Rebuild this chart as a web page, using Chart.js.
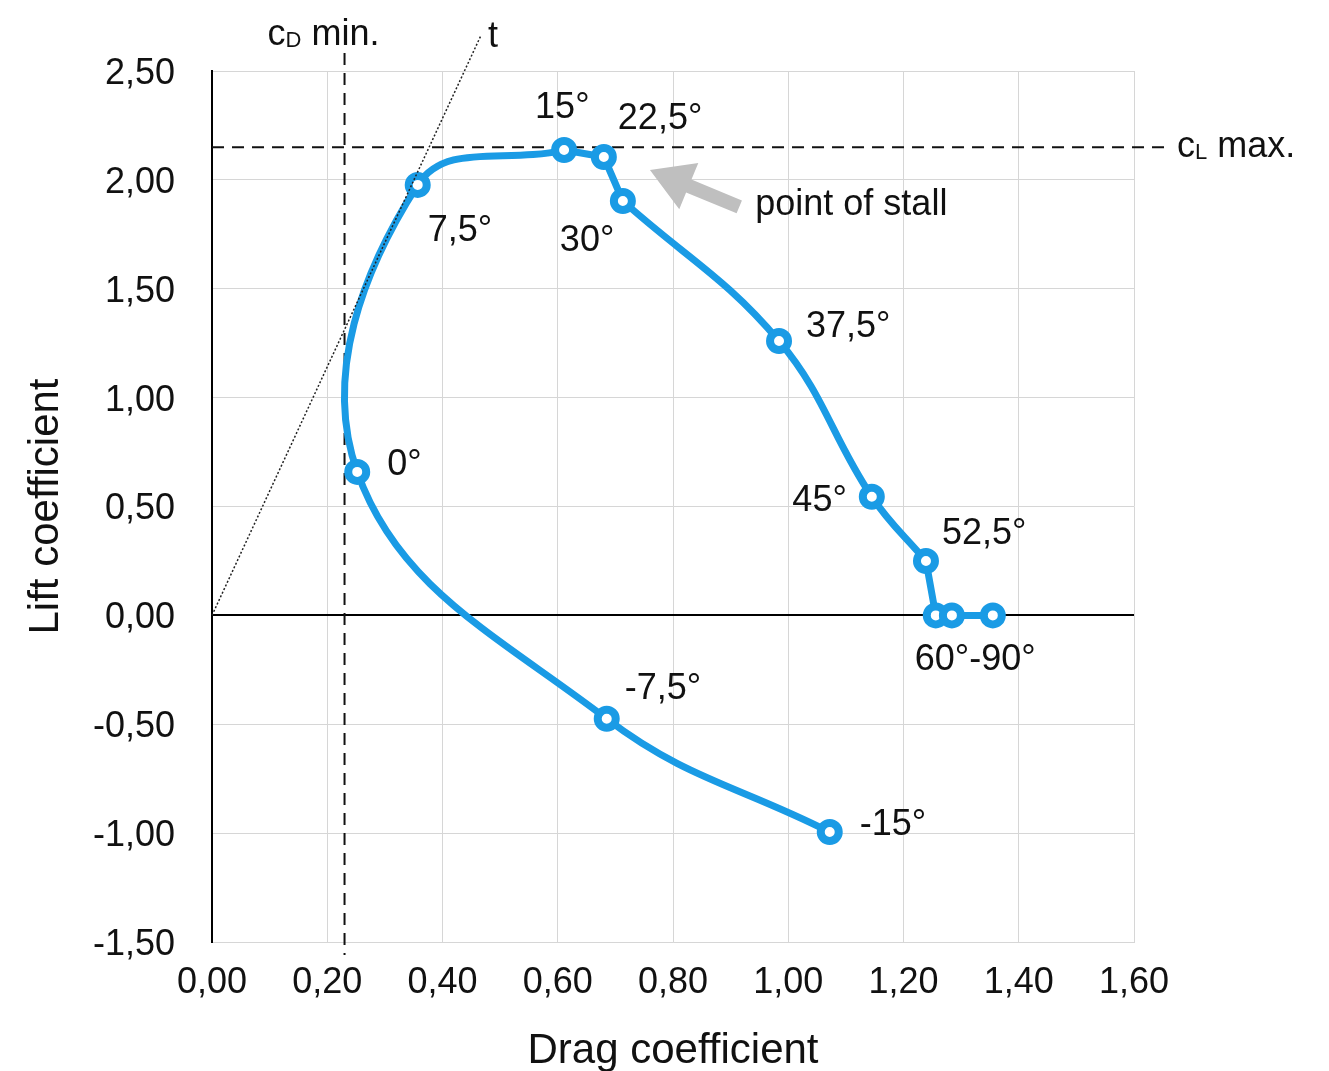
<!DOCTYPE html>
<html><head><meta charset="utf-8">
<script src="https://cdn.jsdelivr.net/npm/chart.js@4.4.1/dist/chart.umd.min.js"></script>
<style>html,body{margin:0;padding:0;background:#fff}#wrap{width:1329px;height:1071px}</style>
</head><body><div id="wrap"><canvas id="c" width="1329" height="1071"></canvas></div>
<script>
// ---- data ----
const angles = [-15, -7.5, 0, 7.5, 15, 22.5, 30, 37.5, 45, 52.5, 60, 75, 90];
const dragCoef = [1.072, 0.685, 0.252, 0.357, 0.611, 0.680, 0.713, 0.984, 1.145, 1.239, 1.256, 1.284, 1.355];
const liftCoef = [-0.995, -0.475, 0.659, 1.977, 2.137, 2.105, 1.903, 1.260, 0.545, 0.250, 0, 0, 0];
const angleLabels = ['-15°', '-7,5°', '0°', '7,5°', '15°', '22,5°', '30°', '37,5°', '45°', '52,5°', '60°-90°', '', ''];
const cdMin = 0.23;
const clMax = 2.15;
const tangentEnd = { x: 0.467, y: 2.665 };
const stallArrow = { tipX: 0.760, tipY: 2.045, tailX: 0.915, tailY: 1.876 };
const xAxisTitle = 'Drag coefficient';
const yAxisTitle = 'Lift coefficient';

// ---- layout (pixel offsets of labels relative to their points) ----
const labelLayout = [
  { dx: 30, dy: -7, align: 'left' },
  { dx: 18, dy: -30, align: 'left' },
  { dx: 30, dy: -7, align: 'left' },
  { dx: 10, dy: 46, align: 'left' },
  { dx: -29, dy: -42, align: 'left' },
  { dx: 14, dy: -38, align: 'left' },
  { dx: -63, dy: 40, align: 'left' },
  { dx: 27, dy: -14, align: 'left' },
  { dx: -25, dy: 4, align: 'right' },
  { dx: 16, dy: -27, align: 'left' },
  { dx: -21, dy: 45, align: 'left' },
  null, null
];
const segments = [
  { from: 0, to: 4, tension: 0.4 },
  { from: 4, to: 6, tension: 0 },
  { from: 6, to: 9, tension: 0.4 },
  { from: 9, to: 12, tension: 0 }
];

const FONT = '"Liberation Sans", Arial, Helvetica, sans-serif';
const BLUE = '#1a9be5';
const pts = dragCoef.map((x, i) => ({ x: x, y: liftCoef[i] }));
const fmt = v => (Math.round(v * 100) / 100).toFixed(2).replace('.', ',');

const datasets = [{
  data: pts, showLine: false, pointRadius: 9, pointBorderWidth: 8,
  pointBackgroundColor: '#ffffff', pointBorderColor: BLUE, order: 0
}];
segments.forEach(s => {
  datasets.push({
    data: pts.slice(s.from, s.to + 1), showLine: true, tension: s.tension,
    borderColor: BLUE, borderWidth: 7, pointRadius: 0, fill: false,
    borderCapStyle: 'round', borderJoinStyle: 'round', order: 1
  });
});

const overlay = {
  id: 'overlay',
  beforeDatasetsDraw(chart) {
    const { ctx, scales: { x, y } } = chart;
    ctx.save();
    ctx.strokeStyle = '#111'; ctx.lineWidth = 2; ctx.setLineDash([12, 8]);
    const yc = y.getPixelForValue(clMax);
    ctx.beginPath(); ctx.moveTo(x.left, yc); ctx.lineTo(x.right + 30, yc); ctx.stroke();
    const xc = x.getPixelForValue(cdMin);
    ctx.beginPath(); ctx.moveTo(xc, y.top - 18); ctx.lineTo(xc, y.bottom + 13); ctx.stroke();
    ctx.restore();
  },
  afterDatasetsDraw(chart) {
    const { ctx, scales: { x, y } } = chart;
    ctx.save();
    // tangent
    const x0 = x.getPixelForValue(0), y0 = y.getPixelForValue(0);
    const tx = x.getPixelForValue(tangentEnd.x), ty = y.getPixelForValue(tangentEnd.y);
    ctx.strokeStyle = '#222'; ctx.lineWidth = 1.5; ctx.setLineDash([2, 2]);
    ctx.beginPath(); ctx.moveTo(x0, y0); ctx.lineTo(tx, ty); ctx.stroke();
    ctx.setLineDash([]);
    // arrow
    const ax = x.getPixelForValue(stallArrow.tipX), ay = y.getPixelForValue(stallArrow.tipY);
    const bx = x.getPixelForValue(stallArrow.tailX), by = y.getPixelForValue(stallArrow.tailY);
    let ux = ax - bx, uy = ay - by; const L = Math.hypot(ux, uy); ux /= L; uy /= L;
    const px = -uy, py = ux;
    const headLen = 42, headHalf = 25, shaftHalf = 7;
    const hx = ax - ux * headLen, hy = ay - uy * headLen;
    ctx.fillStyle = '#bfbfbf';
    ctx.beginPath();
    ctx.moveTo(ax, ay);
    ctx.lineTo(hx + px * headHalf, hy + py * headHalf);
    ctx.lineTo(hx + px * shaftHalf, hy + py * shaftHalf);
    ctx.lineTo(bx + px * shaftHalf, by + py * shaftHalf);
    ctx.lineTo(bx - px * shaftHalf, by - py * shaftHalf);
    ctx.lineTo(hx - px * shaftHalf, hy - py * shaftHalf);
    ctx.lineTo(hx - px * headHalf, hy - py * headHalf);
    ctx.closePath(); ctx.fill();
    // texts
    ctx.fillStyle = '#111';
    ctx.font = '36px ' + FONT;
    ctx.textBaseline = 'middle';
    ctx.textAlign = 'left';
    ctx.fillText('point of stall', bx + 16, by - 2);
    angleLabels.forEach((t, i) => {
      const lay = labelLayout[i];
      if (!t || !lay) return;
      const px0 = x.getPixelForValue(dragCoef[i]), py0 = y.getPixelForValue(liftCoef[i]);
      ctx.textAlign = lay.align;
      ctx.fillText(t, px0 + lay.dx, py0 + lay.dy);
    });
    // t label
    ctx.textAlign = 'left'; ctx.textBaseline = 'alphabetic';
    ctx.fillText('t', tx + 7, ty + 12);
    // cD min.
    const xc = x.getPixelForValue(cdMin);
    let cx = xc - 77, cy = y.top - 26;
    ctx.font = '36px ' + FONT; ctx.fillText('c', cx, cy); cx += ctx.measureText('c').width;
    ctx.font = '22px ' + FONT; ctx.fillText('D', cx, cy + 2); cx += ctx.measureText('D').width;
    ctx.font = '36px ' + FONT; ctx.fillText(' min.', cx, cy);
    // cL max.
    const yc = y.getPixelForValue(clMax);
    cx = x.right + 43; cy = yc + 10;
    ctx.font = '36px ' + FONT; ctx.fillText('c', cx, cy); cx += ctx.measureText('c').width;
    ctx.font = '22px ' + FONT; ctx.fillText('L', cx, cy + 2); cx += ctx.measureText('L').width;
    ctx.font = '36px ' + FONT; ctx.fillText(' max.', cx, cy);
    ctx.restore();
  }
};

new Chart(document.getElementById('c'), {
  type: 'scatter',
  data: { datasets: datasets },
  options: {
    responsive: false, animation: false, events: [],
    layout: { padding: { left: 0, top: 71, right: 195, bottom: 0 } },
    plugins: { legend: { display: false }, tooltip: { enabled: false } },
    scales: {
      x: {
        type: 'linear', min: 0, max: 1.6,
        afterFit: s => { s.height = 129; },
        ticks: { stepSize: 0.2, padding: 19, color: '#111', font: { family: FONT, size: 36 }, callback: v => fmt(v), maxRotation: 0 },
        grid: { color: '#d6d6d6', lineWidth: 1, drawTicks: false },
        border: { color: '#d6d6d6', width: 1 },
        title: { display: true, text: xAxisTitle, color: '#111', font: { family: FONT, size: 42 }, padding: { top: 0, bottom: -6 } }
      },
      y: {
        type: 'linear', min: -1.5, max: 2.5,
        afterFit: s => { s.width = 212; },
        ticks: { stepSize: 0.5, padding: 37, labelOffset: 3, color: '#111', font: { family: FONT, size: 36 }, callback: v => fmt(v) },
        grid: { color: c => (c.tick && Math.abs(c.tick.value) < 1e-9 ? '#000' : '#d6d6d6'), lineWidth: c => (c.tick && Math.abs(c.tick.value) < 1e-9 ? 2 : 1), drawTicks: false },
        border: { color: '#000', width: 2 },
        title: { display: true, text: yAxisTitle, color: '#111', font: { family: FONT, size: 42 }, padding: { top: 21, bottom: 0 } }
      }
    }
  },
  plugins: [overlay]
});
</script></body></html>
